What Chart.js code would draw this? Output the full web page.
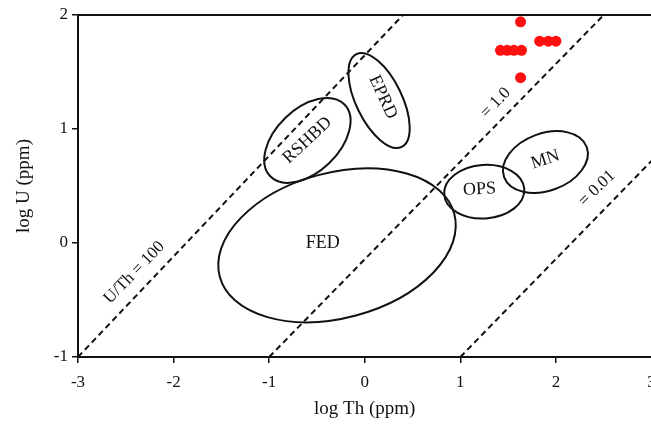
<!DOCTYPE html>
<html>
<head>
<meta charset="utf-8">
<script src="https://cdn.jsdelivr.net/npm/chart.js@4/dist/chart.umd.min.js"></script>
<style>
  html, body { margin: 0; padding: 0; background: #fff; overflow: hidden; }
  #wrap { width: 657px; height: 427px; }
</style>
</head>
<body>
<div id="wrap"><canvas id="uthChart" width="657" height="427"></canvas></div>
<script>
// sample points (log Th, log U)
const sampleTh = [1.63, 1.42, 1.49, 1.56, 1.64, 1.83, 1.92, 2.0, 1.63];
const sampleU = [1.94, 1.69, 1.69, 1.69, 1.69, 1.77, 1.77, 1.77, 1.45];

// U/Th reference lines: [start, end] in log units
const ratioNames = ["U/Th = 100", "= 1.0", "= 0.01"];
const ratioStartTh = [-3, -1, 1];
const ratioStartU = [-1, -1, -1];
const ratioEndTh = [0.4, 2.5, 3];
const ratioEndU = [2, 2, 0.72];
const ratioLabelTh = [-2.41, 1.37, 2.43];
const ratioLabelU = [-0.26, 1.23, 0.48];
const ratioLabelAngle = [-46, -46, -44];

// source fields (ellipses)
const fieldNames = ["FED", "RSHBD", "EPRD", "OPS", "MN"];
const fieldTh = [-0.29, -0.6, 0.15, 1.25, 1.89];
const fieldU = [-0.02, 0.9, 1.25, 0.45, 0.71];
const fieldSemiMajor = [1.27, 0.54, 0.54, 0.42, 0.46];
const fieldSemiMinor = [0.76, 0.33, 0.24, 0.28, 0.30];
const fieldTilt = [-15, -44, 64, -4, -20];
const fieldLabelTh = [-0.44, -0.6, 0.19, 1.2, 1.89];
const fieldLabelU = [0.0, 0.9, 1.28, 0.47, 0.73];
const fieldLabelAngle = [0, -43, 65, -3, -18];

const xTicks = [-3, -2, -1, 0, 1, 2, 3];
const yTicks = [-1, 0, 1, 2];

const serif = "'Liberation Serif', 'DejaVu Serif', serif";

const lineSets = ratioNames.map((name, i) => ({
  type: "line",
  label: name,
  data: [
    { x: ratioStartTh[i], y: ratioStartU[i] },
    { x: ratioEndTh[i], y: ratioEndU[i] },
  ],
  borderColor: "#111",
  borderWidth: 2,
  borderDash: [6, 4],
  pointRadius: 0,
  fill: false,
}));

// ellipses + text labels
const fieldsPlugin = {
  id: "fields",
  beforeDatasetsDraw(chart) {
    const { ctx, scales } = chart;
    const xs = scales.x, ys = scales.y;
    const unit = xs.getPixelForValue(1) - xs.getPixelForValue(0);
    ctx.save();
    ctx.strokeStyle = "#111";
    ctx.lineWidth = 2;
    fieldNames.forEach((n, i) => {
      ctx.beginPath();
      ctx.ellipse(
        xs.getPixelForValue(fieldTh[i]),
        ys.getPixelForValue(fieldU[i]),
        fieldSemiMajor[i] * unit,
        fieldSemiMinor[i] * unit,
        (fieldTilt[i] * Math.PI) / 180,
        0,
        Math.PI * 2
      );
      ctx.stroke();
    });
    ctx.restore();
  },
  afterDatasetsDraw(chart) {
    const { ctx, scales } = chart;
    const xs = scales.x, ys = scales.y;
    const put = (txt, x, y, ang, size) => {
      ctx.save();
      ctx.translate(xs.getPixelForValue(x), ys.getPixelForValue(y));
      ctx.rotate((ang * Math.PI) / 180);
      ctx.font = size + "px " + serif;
      ctx.fillStyle = "#111";
      ctx.textAlign = "center";
      ctx.textBaseline = "middle";
      ctx.fillText(txt, 0, 0);
      ctx.restore();
    };
    fieldNames.forEach((n, i) => put(n, fieldLabelTh[i], fieldLabelU[i], fieldLabelAngle[i], 18));
    ratioNames.forEach((n, i) => put(n, ratioLabelTh[i], ratioLabelU[i], ratioLabelAngle[i], 17));
  },
};

const ctx = document.getElementById("uthChart").getContext("2d");
new Chart(ctx, {
  type: "scatter",
  data: {
    datasets: [
      ...lineSets,
      {
        label: "samples",
        data: sampleTh.map((v, i) => ({ x: v, y: sampleU[i] })),
        backgroundColor: "#ff1010",
        borderWidth: 0,
        pointRadius: 5.5,
      },
    ],
  },
  options: {
    responsive: false,
    animation: false,
    layout: { padding: { left: 0, top: 15, right: 0, bottom: 0 } },
    plugins: { legend: { display: false }, tooltip: { enabled: false } },
    scales: {
      x: {
        type: "linear",
        min: -3,
        max: 3,
        afterBuildTicks: (s) => { s.ticks = xTicks.map((v) => ({ value: v })); },
        ticks: { color: "#111", font: { family: serif, size: 17 }, padding: 9 },
        grid: { drawOnChartArea: false, color: "#111", tickLength: 6, lineWidth: 1.5 },
        border: { display: true, color: "#111", width: 2 },
        title: { display: true, text: "log Th (ppm)", color: "#111", font: { family: serif, size: 19 }, padding: { top: 0, bottom: 7 } },
        afterFit: (s) => { s.height = 70; s.paddingLeft = 0; s.paddingRight = 0; },
      },
      x2: {
        type: "linear",
        position: "top",
        min: -3,
        max: 3,
        ticks: { display: false },
        grid: { display: false, drawTicks: false },
        border: { display: true, color: "#111", width: 2 },
        afterFit: (s) => { s.height = 0; s.paddingLeft = 0; s.paddingRight = 0; },
      },
      y: {
        type: "linear",
        min: -1,
        max: 2,
        afterBuildTicks: (s) => { s.ticks = yTicks.map((v) => ({ value: v })); },
        ticks: { color: "#111", font: { family: serif, size: 17 }, padding: 4 },
        grid: { drawOnChartArea: false, color: "#111", tickLength: 6, lineWidth: 1.5 },
        border: { display: true, color: "#111", width: 2 },
        title: { display: true, text: "log U (ppm)", color: "#111", font: { family: serif, size: 19 }, padding: { top: 13, bottom: 0 } },
        afterFit: (s) => { s.width = 78; s.paddingTop = 0; s.paddingBottom = 0; },
      },
    },
  },
  plugins: [fieldsPlugin],
});
</script>
</body>
</html>
